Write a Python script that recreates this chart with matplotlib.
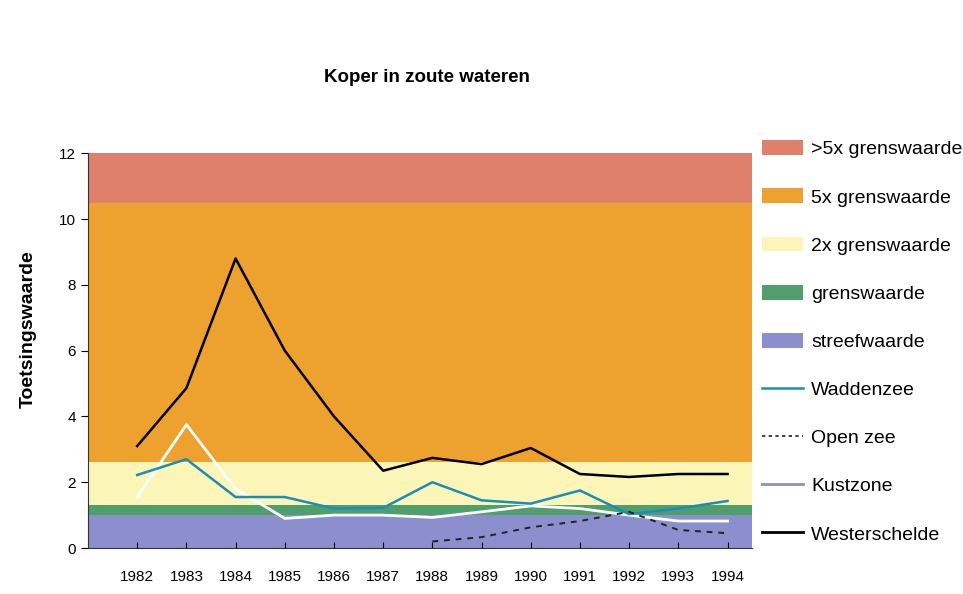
import matplotlib.pyplot as plt
from matplotlib.patches import Patch
from matplotlib.lines import Line2D

plt.rcParams['font.family'] = ['Liberation Sans', 'DejaVu Sans']

years = [1982, 1983, 1984, 1985, 1986, 1987, 1988, 1989, 1990, 1991, 1992, 1993, 1994]

# Toetsingswaarde per gebied
waddenzee = [2.22, 2.7, 1.55, 1.55, 1.2, 1.22, 2.0, 1.45, 1.35, 1.75, 1.03, 1.2, 1.43]
kustzone = [1.55, 3.75, 1.8, 0.9, 1.0, 1.0, 0.93, 1.1, 1.28, 1.2, 1.0, 0.82, 0.82]
westerschelde = [3.1, 4.86, 8.8, 6.0, 4.0, 2.35, 2.74, 2.55, 3.04, 2.25, 2.16, 2.25, 2.25]
open_zee_years = [1988, 1989, 1990, 1991, 1992, 1993, 1994]
open_zee = [0.2, 0.33, 0.63, 0.82, 1.1, 0.55, 0.45]

# klassegrenzen (onder, boven)
band_names = ['>5x grenswaarde', '5x grenswaarde', '2x grenswaarde', 'grenswaarde', 'streefwaarde']
band_lo = [10.5, 2.6, 1.3, 1.0, 0.0]
band_hi = [12.0, 10.5, 2.6, 1.3, 1.0]
band_colors = ['#df806c', '#eda12f', '#fbf6b8', '#4f9e6c', '#8b8fcd']

fig = plt.figure(figsize=(9.63, 5.94), dpi=100)
ax = fig.add_axes([0.0914, 0.0774, 0.6896, 0.6646])

for lo, hi, c in zip(band_lo, band_hi, band_colors):
    ax.axhspan(lo, hi, color=c, lw=0, zorder=0)

ax.plot(years, waddenzee, color='#1a8dbb', lw=1.8, zorder=3)
ax.plot(open_zee_years, open_zee, color='#222222', lw=1.4, ls=(0, (3, 3)), zorder=3)
ax.plot(years, kustzone, color='white', lw=2.0, zorder=2)
ax.plot(years, westerschelde, color='black', lw=1.8, zorder=4)

ax.set_xlim(1981, 1994.5)
ax.set_ylim(0, 12)
ax.set_yticks([0, 2, 4, 6, 8, 10, 12])
ax.set_xticks(years)
ax.tick_params(labelsize=11, length=5, direction='out')
ax.tick_params(axis='x', length=4, direction='in', pad=16)
for s in ['top', 'right']:
    ax.spines[s].set_visible(False)
ax.spines['left'].set_color('#333333')
ax.spines['bottom'].set_color('#333333')

ax.set_ylabel('Toetsingswaarde', fontsize=14, fontweight='bold')
ax.yaxis.set_label_coords(-0.077, 0.554)
fig.text(0.443, 0.87, 'Koper in zoute wateren', fontsize=13.5, fontweight='bold', ha='center', va='center')

handles = [Patch(facecolor=c, edgecolor='none') for c in band_colors]
handles += [
    Line2D([], [], color='#1a8dbb', lw=1.8),
    Line2D([], [], color='#222222', lw=1.2, ls=(0, (2, 2))),
    Line2D([], [], color='#8a8fc8', lw=2.0),
    Line2D([], [], color='black', lw=2.0),
]
labels = band_names + ['Waddenzee', 'Open zee', 'Kustzone', 'Westerschelde']
fig.legend(handles, labels, loc='upper left', bbox_to_anchor=(0.7837, 0.777),
           frameon=False, fontsize=14, labelspacing=1.54, handlelength=2.1,
           handleheight=0.8, handletextpad=0.4, borderaxespad=0)

plt.savefig('out.png', dpi=100)
